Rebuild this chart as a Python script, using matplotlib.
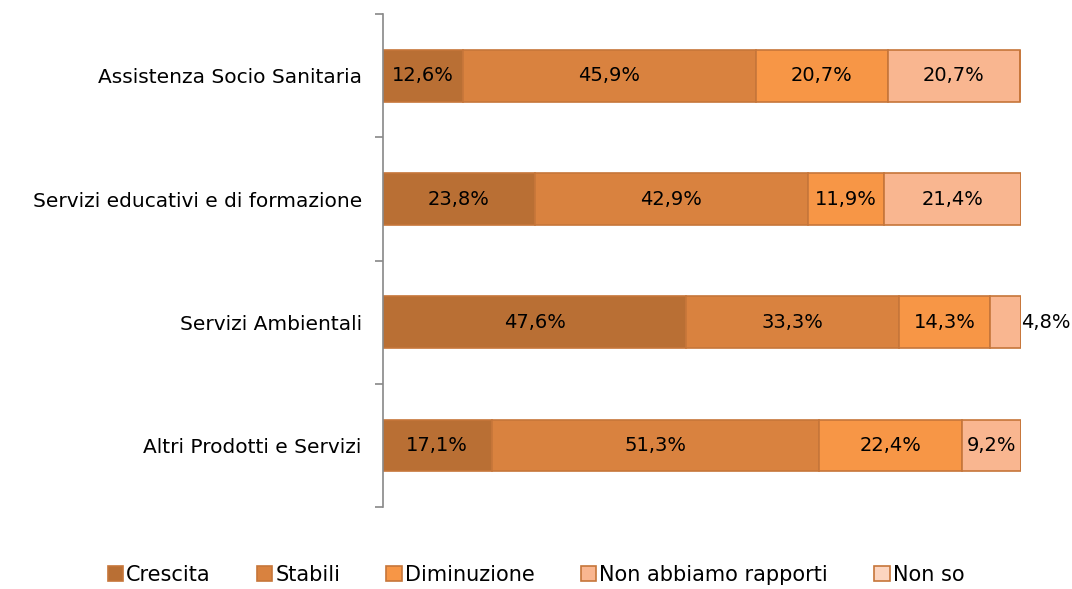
import numpy as np
import matplotlib.pyplot as plt

categories = ['Assistenza Socio Sanitaria', 'Servizi educativi e di formazione',
              'Servizi Ambientali', 'Altri Prodotti e Servizi']
series = ['Crescita', 'Stabili', 'Diminuzione', 'Non abbiamo rapporti', 'Non so']
crescita = [12.6, 23.8, 47.6, 17.1]
stabili = [45.9, 42.9, 33.3, 51.3]
diminuzione = [20.7, 11.9, 14.3, 22.4]
non_rapporti = [20.7, 21.4, 4.8, 9.2]
non_so = [0, 0, 0, 0]
colors = ['#B96F34', '#D9823F', '#F79646', '#F9B690', '#FCD5C0']

plt.rcParams['font.family'] = ['DejaVu Sans']

fig = plt.figure(figsize=(10.72, 5.89), dpi=100)
ax = fig.add_axes([0.357, 0.139, 0.595, 0.837])

y = np.arange(len(categories))
left = np.zeros(len(categories))
data = [crescita, stabili, diminuzione, non_rapporti, non_so]
for name, vals, col in zip(series, data, colors):
    vals = np.array(vals)
    ax.barh(y, vals, left=left, height=0.42, color=col, edgecolor='#C6763A',
            linewidth=1.2, label=name)
    for yi, l, v in zip(y, left, vals):
        if v <= 0:
            continue
        txt = f'{v:.1f}%'.replace('.', ',')
        if v < 6:
            ax.text(l + v + 0.05, yi, txt, ha='left', va='center', fontsize=14)
        else:
            ax.text(l + v / 2, yi, txt, ha='center', va='center', fontsize=14)
    left += vals

ax.set_xlim(0, 100)
ax.set_ylim(len(categories) - 0.5, -0.5)
ax.set_yticks(y)
ax.set_yticklabels(categories, fontsize=14.5)
ax.set_yticks(np.arange(-0.5, len(categories)), minor=True)
ax.tick_params(axis='y', which='major', length=0, pad=15)
ax.tick_params(axis='y', which='minor', length=6, color='#888888', width=1.2)
ax.set_xticks([])
for s in ['top', 'right', 'bottom']:
    ax.spines[s].set_visible(False)
ax.spines['left'].set_color('#888888')
ax.spines['left'].set_linewidth(1.2)

fig.legend(loc='lower center', ncol=5, frameon=False, fontsize=15,
           bbox_to_anchor=(0.5, -0.025), handlelength=0.75, handleheight=0.75,
           handletextpad=0.15, columnspacing=2.2)

fig.savefig('out.png', dpi=100)
